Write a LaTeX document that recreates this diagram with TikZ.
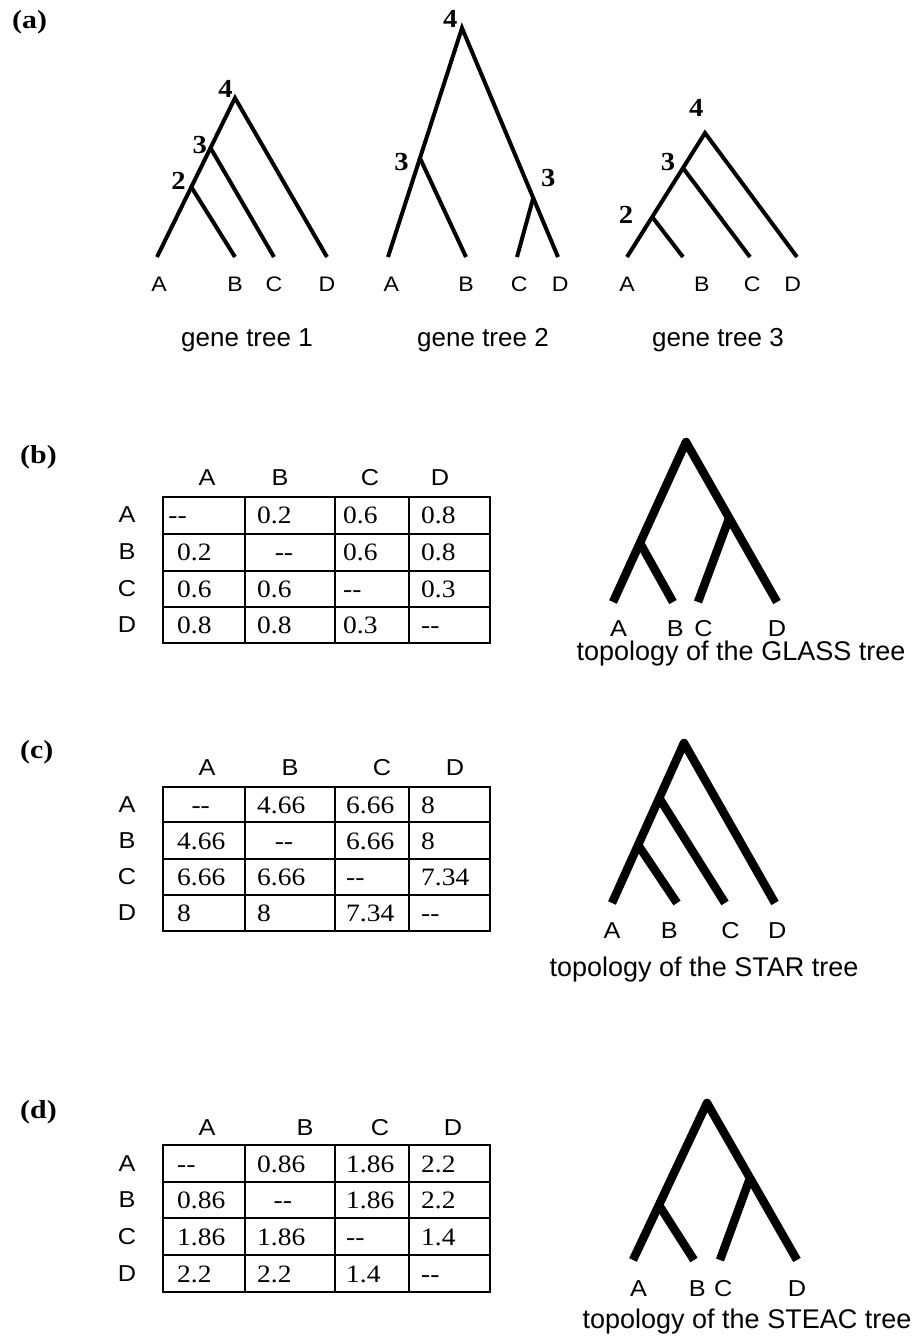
\documentclass[tikz,border=0pt]{standalone}
\usepackage{fontspec}
\setmainfont{Liberation Serif}
\setsansfont{Liberation Sans}
\usetikzlibrary{calc}
\usetikzlibrary{positioning}

\begin{document}
\begin{tikzpicture}[
		x=1pt, y=-1pt,
		node distance=20pt,
		gene/.style={line width=4pt},
		species/.style={line width=8.5pt, line join=round},
		grid/.style={line width=1.8pt},
		txt/.style={inner sep=0pt, xscale=1.1},
		leaf/.style={txt, font=\sffamily\fontsize{21}{21}\selectfont},
		bigleaf/.style={txt, font=\sffamily\fontsize{23}{23}\selectfont},
		rank/.style={txt, font=\bfseries\fontsize{26}{26}\selectfont},
		panel/.style={inner sep=0pt, xscale=1.15, anchor=west, font=\bfseries\fontsize{26}{26}\selectfont},
		genecap/.style={inner sep=0pt, anchor=base, font=\sffamily\fontsize{26}{26}\selectfont},
		caption/.style={inner sep=0pt, font=\sffamily\fontsize{27}{27}\selectfont},
		entry/.style={txt, anchor=base west, font=\fontsize{25}{25}\selectfont},
	]
	\useasboundingbox (0,0) rectangle (912,1339);

	% (a) gene trees
	\node[panel] (pa) at (12,22) {(a)};

	\coordinate (g1A) at (157,257);
	\coordinate (g1B) at (235,257);
	\coordinate (g1C) at (274,257);
	\coordinate (g1D) at (327,257);
	\coordinate (g1r) at (235,98);
	\coordinate (g1n3) at ($(g1A)!0.686!(g1r)$);
	\coordinate (g1n2) at ($(g1A)!0.44!(g1r)$);
	\draw[gene] (g1A) -- (g1r) -- (g1D);
	\draw[gene] (g1n2) -- (g1B);
	\draw[gene] (g1n3) -- (g1C);
	\node[rank, anchor=south east, xshift=-2pt] (g1l4) at (g1r) {4};
	\node[rank, anchor=east, xshift=-3pt, yshift=3pt] (g1l3) at (g1n3) {3};
	\node[rank, anchor=east, xshift=-5pt, yshift=6pt] (g1l2) at (g1n2) {2};
	\node[leaf, below=of g1A, xshift=2pt] (g1a) {A};
	\node[leaf, below=of g1B] (g1b) {B};
	\node[leaf, below=of g1C] (g1c) {C};
	\node[leaf, below=of g1D] (g1d) {D};

	\coordinate (g2A) at (388,257);
	\coordinate (g2B) at (466,257);
	\coordinate (g2C) at (517,257);
	\coordinate (g2D) at (558,257);
	\coordinate (g2r) at (462,28);
	\coordinate (g2n3l) at ($(g2A)!0.432!(g2r)$);
	\coordinate (g2n3r) at ($(g2D)!0.258!(g2r)$);
	\draw[gene] (g2A) -- (g2r) -- (g2D);
	\draw[gene] (g2n3l) -- (g2B);
	\draw[gene] (g2n3r) -- (g2C);
	\node[rank, anchor=south east, xshift=-4pt] (g2l4) at (g2r) {4};
	\node[rank, anchor=east, xshift=-10pt, yshift=-4pt] (g2l3l) at (g2n3l) {3};
	\node[rank, anchor=south west, xshift=7pt, yshift=11pt] (g2l3r) at (g2n3r) {3};
	\node[leaf, below=of g2A, xshift=3pt] (g2a) {A};
	\node[leaf, below=of g2B] (g2b) {B};
	\node[leaf, below=of g2C, xshift=2pt] (g2c) {C};
	\node[leaf, below=of g2D, xshift=2pt] (g2d) {D};

	\coordinate (g3A) at (627,257);
	\coordinate (g3B) at (683,257);
	\coordinate (g3C) at (750,257);
	\coordinate (g3D) at (797,257);
	\coordinate (g3r) at (705,133);
	\coordinate (g3n3) at ($(g3A)!0.718!(g3r)$);
	\coordinate (g3n2) at ($(g3A)!0.323!(g3r)$);
	\draw[gene] (g3A) -- (g3r) -- (g3D);
	\draw[gene] (g3n2) -- (g3B);
	\draw[gene] (g3n3) -- (g3C);
	\node[rank, anchor=south, xshift=-8pt, yshift=16pt] (g3l4) at (g3r) {4};
	\node[rank, anchor=east, xshift=-7pt, yshift=6pt] (g3l3) at (g3n3) {3};
	\node[rank, anchor=east, xshift=-17pt, yshift=2pt] (g3l2) at (g3n2) {2};
	\node[leaf, below=of g3A] (g3a) {A};
	\node[leaf, below=of g3B, xshift=17pt] (g3b) {B};
	\node[leaf, below=of g3C, xshift=2pt] (g3c) {C};
	\node[leaf, below=of g3D, xshift=-4pt] (g3d) {D};

	\node[genecap] (cap1) at (247,346) {gene tree 1};
	\node[genecap] (cap2) at (483,346) {gene tree 2};
	\node[genecap] (cap3) at (718,346) {gene tree 3};

	% (b) GLASS
	\node[panel] (pb) at (20,457) {(b)};
	\foreach \x/\hl in {207/A,280/B,370/C,440/D}
		\node[bigleaf] (bh\hl) at (\x,478) {\hl};
	\draw[grid] (163,497) rectangle (490,643);
	\foreach \x in {245,335,409} \draw[grid] (\x,497) -- (\x,643);
	\foreach \y in {534,571,607} \draw[grid] (163,\y) -- (490,\y);
	\foreach \rl/\ry/\ea/\eb/\ec/\ed in {A/515/{\hspace{-8pt}-{}-}/0.2/0.6/0.8, B/552/0.2/{\hspace{16pt}-{}-}/0.6/0.8, C/589/0.6/0.6/-{}-/0.3, D/625/0.8/0.8/0.3/-{}-}{
		\node[bigleaf] (b\rl) at (127,\ry) {\rl};
		\node[entry] (b\rl1) at (177,\ry+8.5) {\ea};
		\node[entry] (b\rl2) at (257,\ry+8.5) {\eb};
		\node[entry] (b\rl3) at (343,\ry+8.5) {\ec};
		\node[entry] (b\rl4) at (421,\ry+8.5) {\ed};
	}

	\coordinate (gsA) at (613,602);
	\coordinate (gsB) at (673,602);
	\coordinate (gsC) at (698,602);
	\coordinate (gsD) at (777,602);
	\coordinate (gsr) at (686,442);
	\coordinate (gsAB) at ($(gsA)!0.369!(gsr)$);
	\coordinate (gsCD) at ($(gsD)!0.525!(gsr)$);
	\draw[species] (gsA) -- (gsr) -- (gsD);
	\draw[species] (gsAB) -- (gsB);
	\draw[species] (gsCD) -- (gsC);
	\node[bigleaf, below=18pt of gsA, xshift=5pt] (gsa) {A};
	\node[bigleaf, below=18pt of gsB, xshift=2pt] (gsb) {B};
	\node[bigleaf, below=18pt of gsC, xshift=5pt] (gsc) {C};
	\node[bigleaf, below=18pt of gsD] (gsd) {D};
	\node[caption] (capb) at (741,654) {topology of the GLASS tree};

	% (c) STAR
	\node[panel] (pc) at (20,752) {(c)};
	\foreach \x/\hl in {207/A,290/B,382/C,455/D}
		\node[bigleaf] (ch\hl) at (\x,768) {\hl};
	\draw[grid] (163,787) rectangle (490,931);
	\foreach \x in {245,335,409} \draw[grid] (\x,787) -- (\x,931);
	\foreach \y in {822,859,895} \draw[grid] (163,\y) -- (490,\y);
	\foreach \rl/\ry/\ea/\eb/\ec/\ed in {A/805/{\hspace{13pt}-{}-}/4.66/6.66/8, B/841/4.66/{\hspace{16pt}-{}-}/6.66/8, C/877/6.66/6.66/-{}-/7.34, D/913/8/8/7.34/-{}-}{
		\node[bigleaf] (c\rl) at (127,\ry) {\rl};
		\node[entry] (c\rl1) at (177,\ry+8.5) {\ea};
		\node[entry] (c\rl2) at (257,\ry+8.5) {\eb};
		\node[entry] (c\rl3) at (346,\ry+8.5) {\ec};
		\node[entry] (c\rl4) at (421,\ry+8.5) {\ed};
	}

	\coordinate (stA) at (612,903);
	\coordinate (stB) at (677,903);
	\coordinate (stC) at (725,903);
	\coordinate (stD) at (775,903);
	\coordinate (str) at (684,743);
	\coordinate (stABC) at ($(stA)!0.656!(str)$);
	\coordinate (stAB) at ($(stA)!0.3625!(str)$);
	\draw[species] (stA) -- (str) -- (stD);
	\draw[species] (stAB) -- (stB);
	\draw[species] (stABC) -- (stC);
	\node[bigleaf, below=19pt of stA] (sta) {A};
	\node[bigleaf, below=19pt of stB, xshift=-7pt] (stb) {B};
	\node[bigleaf, below=19pt of stC, xshift=5pt] (stc) {C};
	\node[bigleaf, below=19pt of stD, xshift=2pt] (std) {D};
	\node[caption] (capc) at (704,970) {topology of the STAR tree};

	% (d) STEAC
	\node[panel] (pd) at (20,1112) {(d)};
	\foreach \x/\hl in {207/A,305/B,380/C,453/D}
		\node[bigleaf] (dh\hl) at (\x,1128) {\hl};
	\draw[grid] (163,1145) rectangle (490,1292);
	\foreach \x in {245,335,409} \draw[grid] (\x,1145) -- (\x,1292);
	\foreach \y in {1182,1218,1255} \draw[grid] (163,\y) -- (490,\y);
	\foreach \rl/\ry/\ea/\eb/\ec/\ed in {A/1164/-{}-/0.86/1.86/2.2, B/1200/0.86/{\hspace{15pt}-{}-}/1.86/2.2, C/1237/1.86/1.86/-{}-/1.4, D/1274/2.2/2.2/1.4/-{}-}{
		\node[bigleaf] (d\rl) at (127,\ry) {\rl};
		\node[entry] (d\rl1) at (177,\ry+8.5) {\ea};
		\node[entry] (d\rl2) at (257,\ry+8.5) {\eb};
		\node[entry] (d\rl3) at (346,\ry+8.5) {\ec};
		\node[entry] (d\rl4) at (421,\ry+8.5) {\ed};
	}

	\coordinate (seA) at (633,1260);
	\coordinate (seB) at (694,1260);
	\coordinate (seC) at (720,1260);
	\coordinate (seD) at (797,1260);
	\coordinate (ser) at (707,1103);
	\coordinate (seAB) at ($(seA)!0.35!(ser)$);
	\coordinate (seCD) at ($(seD)!0.522!(ser)$);
	\draw[species] (seA) -- (ser) -- (seD);
	\draw[species] (seAB) -- (seB);
	\draw[species] (seCD) -- (seC);
	\node[bigleaf, below=20pt of seA, xshift=5pt] (sea) {A};
	\node[bigleaf, below=20pt of seB, xshift=3pt] (seb) {B};
	\node[bigleaf, below=20pt of seC, xshift=3pt] (sec) {C};
	\node[bigleaf, below=20pt of seD] (sed) {D};
	\node[caption] (capd) at (747,1322) {topology of the STEAC tree};
\end{tikzpicture}
\end{document}
